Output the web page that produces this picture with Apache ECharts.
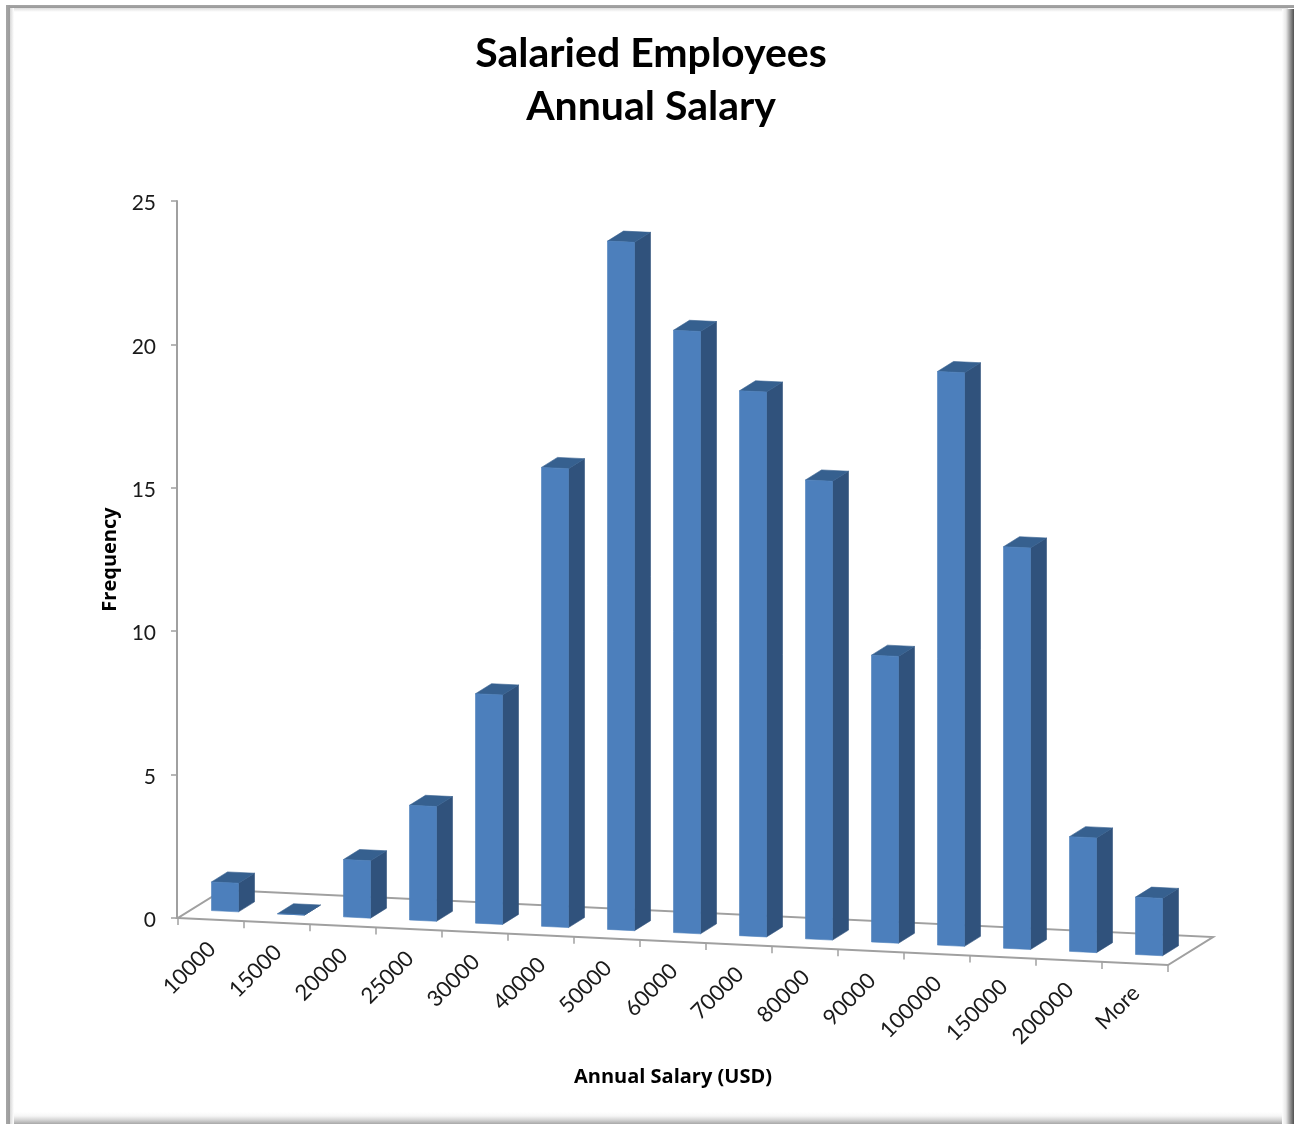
<!DOCTYPE html>
<html><head><meta charset="utf-8">
<style>html,body{margin:0;padding:0;background:#fff}#c{width:1294px;height:1124px}</style>
<script src="https://cdn.jsdelivr.net/npm/echarts@6/dist/echarts.min.js"></script>
</head><body><div id="c"></div>
<script>
const categories = ['10000','15000','20000','25000','30000','40000','50000','60000','70000','80000','90000','100000','150000','200000','More'];
const frequency = [1,0,2,4,8,16,24,21,19,16,10,20,14,4,2];
const yTicks = [0,5,10,15,20,25];
const titleText = 'Salaried Employees\nAnnual Salary';
const xName = 'Annual Salary (USD)';
const yName = 'Frequency';

const FONT = 'Lato';
const NAME_FONT = 'Open Sans';
const SLOPE = 0.0475, DEPTH_X = 16, DEPTH_Y = 10, BAR_W = 27, BAR_OFF = 33.5, BAR_LIFT = 9;
const FLOOR_X = 45, FLOOR_Y = 28;
const AXIS = '#a0a0a0';

const chart = echarts.init(document.getElementById('c'), null, {renderer:'canvas'});

function base(api){
  const p = api.coord([0,0]); const w = api.size([1,0])[0];
  return {x0:p[0]-w/2, y0:p[1], w};
}
function floorY(b,x){ return b.y0+(x-b.x0)*SLOPE; }

function renderFloor(params, api){
  const b = base(api), n = categories.length, x1 = b.x0+n*b.w, y1 = floorY(b,x1);
  const children = [{type:'polygon',shape:{points:[[b.x0,b.y0],[x1,y1],[x1+FLOOR_X,y1-FLOOR_Y],[b.x0+FLOOR_X,b.y0-FLOOR_Y]]},
    style:{fill:'#ffffff',stroke:AXIS,lineWidth:2}}];
  for(let i=0;i<=n;i++){
    const x=b.x0+i*b.w,y=floorY(b,x);
    children.push({type:'line',shape:{x1:x,y1:y,x2:x,y2:y+7},style:{stroke:AXIS,lineWidth:1.5}});
  }
  return {type:'group',children};
}
function renderBar(params, api){
  const i = api.value(0), v = api.value(1), b = base(api);
  const xl = b.x0+i*b.w+BAR_OFF, xr = xl+BAR_W;
  const unit = api.coord([0,0])[1]-api.coord([0,1])[1];
  const h = v*unit;
  const bl = floorY(b,xl)-BAR_LIFT, br = floorY(b,xr)-BAR_LIFT;
  const front=[[xl,bl-h],[xr,br-h],[xr,br],[xl,bl]];
  const side=[[xr,br-h],[xr+DEPTH_X,br-h-DEPTH_Y],[xr+DEPTH_X,br-DEPTH_Y],[xr,br]];
  const top=[[xl,bl-h],[xl+DEPTH_X,bl-h-DEPTH_Y],[xr+DEPTH_X,br-h-DEPTH_Y],[xr,br-h]];
  return {type:'group',children:[
    {type:'polygon',shape:{points:side},style:{fill:'#30527c',stroke:'#30527c',lineWidth:0.6}},
    {type:'polygon',shape:{points:top},style:{fill:'#36608f',stroke:'#36608f',lineWidth:0.6}},
    {type:'polygon',shape:{points:front},style:{fill:'#4c7fbc',stroke:'#4c7fbc',lineWidth:0.6}}
  ]};
}
function renderLabel(params, api){
  const i = api.value(0), b = base(api);
  const xc = b.x0+(i+0.5)*b.w;
  return {type:'text',x:xc+1,y:floorY(b,xc)+26,rotation:Math.PI/4,
    style:{text:categories[i],align:'right',verticalAlign:'middle',font:'22px '+FONT,fill:'#1a1a1a'}};
}
const rows = frequency.map((v,i)=>[i,v]);
function frameRect(x,y,w,h,dir,stops){
  return {type:'rect',silent:true,shape:{x,y,width:w,height:h},
   style:{fill:new echarts.graphic.LinearGradient(dir[0],dir[1],dir[2],dir[3],stops.map((c,k)=>({offset:k/(stops.length-1),color:c})))}};
}
chart.setOption({
  animation:false,
  backgroundColor:'#ffffff',
  title:{text:titleText,left:646,top:22,textAlign:'center',
    textStyle:{fontFamily:FONT,fontWeight:'bold',fontSize:41,lineHeight:53,color:'#000000'}},
  grid:{left:178,top:201,width:990,height:717,containLabel:false},
  xAxis:{type:'category',data:categories,boundaryGap:true,
    axisLine:{show:false},axisTick:{show:false},axisLabel:{show:false},splitLine:{show:false},
    name:xName,nameLocation:'middle',nameGap:149,
    nameTextStyle:{fontFamily:NAME_FONT,fontWeight:'bold',fontSize:20,color:'#000000'}},
  yAxis:{type:'value',min:0,max:25,interval:5,offset:1,
    axisLine:{show:true,lineStyle:{color:AXIS,width:2}},
    axisTick:{show:true,length:6,lineStyle:{color:AXIS,width:1.5}},
    axisLabel:{margin:21,fontFamily:FONT,fontSize:21,color:'#1a1a1a',verticalAlign:'top',lineHeight:5,customValues:yTicks},
    splitLine:{show:false},
    name:yName,nameLocation:'middle',nameGap:57,
    nameTextStyle:{fontFamily:NAME_FONT,fontWeight:'bold',fontSize:20,color:'#000000'}},
  graphic:[
    frameRect(6,5,1288,3,[0,0,0,1],['#a6a6a6','#9a9a9a']),
    frameRect(6,8,1282,4,[0,0,0,1],['#dddddd','#ffffff']),
    frameRect(6,5,4,1119,[0,0,1,0],['#a6a6a6','#9c9c9c']),
    frameRect(10,8,4,1116,[0,0,1,0],['#d8d8d8','#ffffff']),
    frameRect(1282,9,12,1115,[0,0,1,0],['#ffffff','#e8e8e8','#9a9a9a','#505050']),
    frameRect(14,1112,1268,12,[0,0,0,1],['#ffffff','#f6f6f6','#d4d4d4','#a8a8a8'])
  ],
  series:[
    {type:'custom',name:'floor',renderItem:renderFloor,data:[[0,0]],encode:{x:0,y:1},silent:true,z:1},
    {type:'custom',name:'Frequency',renderItem:renderBar,data:rows,encode:{x:0,y:1},z:2},
    {type:'custom',name:'labels',renderItem:renderLabel,data:rows,encode:{x:0,y:1},silent:true,z:3}
  ]
});
</script></body></html>
